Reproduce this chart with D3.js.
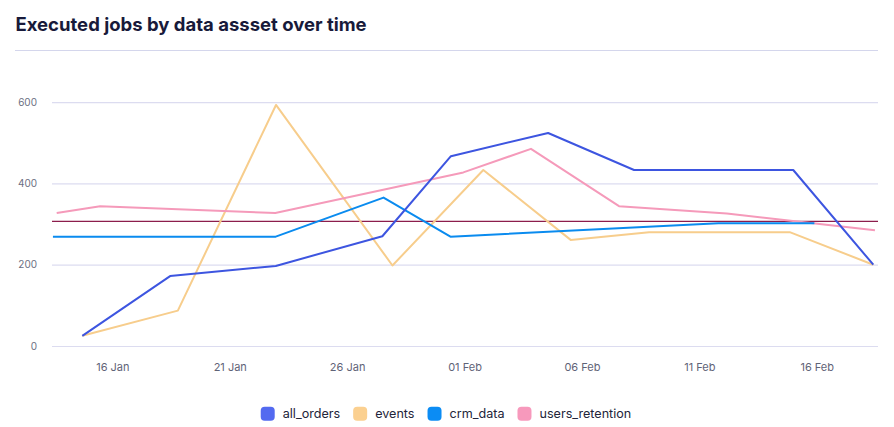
<!DOCTYPE html>
<html>
<head>
<meta charset="utf-8">
<script src="https://cdn.jsdelivr.net/npm/d3@7"></script>
<style>
  html, body { margin: 0; padding: 0; background: #ffffff; }
  svg { display: block; font-family: Inter, "Noto Sans", sans-serif; }
</style>
</head>
<body>
<svg id="chart" width="894" height="427"></svg>
<script>
// ---- data (x in days relative to 16 Jan) ----
const title = "Executed jobs by data assset over time";
const seriesNames = ["all_orders", "events", "crm_data", "users_retention"];
const seriesColors = ["#3d55e0", "#f7cd8c", "#0a8bef", "#f59aba"];
const swatchColors = ["#536af0", "#fbd090", "#0b8cf4", "#f799bc"];

const allOrdersX = [-1.28, 2.46, 6.96, 11.50, 14.42, 18.56, 22.22, 29.00, 32.41];
const allOrdersY = [25, 172, 197, 270, 467, 524, 433, 433, 200];

const eventsX = [-1.28, 2.79, 6.97, 11.93, 15.80, 19.52, 22.86, 28.85, 32.41];
const eventsY = [25, 87, 593, 198, 433, 261, 280, 280, 200];

const crmX = [-2.53, 6.96, 11.55, 14.40, 25.81, 29.90];
const crmY = [269, 269, 365, 269, 302, 302];

const retentionX = [-2.37, -0.52, 6.94, 14.95, 17.83, 21.58, 26.17, 32.48];
const retentionY = [327, 344, 327, 427, 485, 344, 326, 285];

const referenceValue = 306.6;

const xTickValues = [0, 5, 10, 15, 20, 25, 30];
const xTickLabels = ["16 Jan", "21 Jan", "26 Jan", "01 Feb", "06 Feb", "11 Feb", "16 Feb"];
const yTickValues = [0, 200, 400, 600];

// ---- layout ----
const svg = d3.select("#chart");
const plotLeft = 52, plotRight = 878, plotTop = 102.1, plotBottom = 346;

const x = d3.scaleLinear().domain([-2.57, 32.61]).range([plotLeft, plotRight]);
const y = d3.scaleLinear().domain([0, 600]).range([plotBottom, plotTop]);

// title
svg.append("text")
  .attr("x", 15.5).attr("y", 31)
  .attr("font-size", 18.5).attr("font-weight", 700)
  .attr("fill", "#181a3a")
  .text(title);

svg.append("line")
  .attr("x1", 15).attr("x2", plotRight)
  .attr("y1", 50.5).attr("y2", 50.5)
  .attr("stroke", "#d4d6ec").attr("stroke-width", 1);

// y grid + labels
const yAxis = d3.axisLeft(y).tickValues(yTickValues).tickSize(-(plotRight - plotLeft)).tickPadding(15);
const yg = svg.append("g").attr("transform", `translate(${plotLeft},0)`).call(yAxis);
yg.select(".domain").remove();
yg.selectAll(".tick line").attr("stroke", "#dcdcf0").attr("stroke-width", 1.2);
yg.selectAll(".tick text")
  .attr("font-size", 10).attr("fill", "#6c6f82")
  .attr("font-family", "Inter, sans-serif");

// x axis labels
const xAxis = d3.axisBottom(x).tickValues(xTickValues)
  .tickFormat((d, i) => xTickLabels[i]).tickSize(0).tickPadding(17);
const xg = svg.append("g").attr("transform", `translate(0,${plotBottom})`).call(xAxis);
xg.select(".domain").remove();
xg.selectAll(".tick text")
  .attr("font-size", 11).attr("fill", "#5f6377")
  .attr("font-family", "Inter, sans-serif");

// reference line
svg.append("line")
  .attr("x1", plotLeft).attr("x2", plotRight)
  .attr("y1", y(referenceValue)).attr("y2", y(referenceValue))
  .attr("stroke", "#8c1d4c").attr("stroke-width", 1.2);

// series
const seriesData = [
  allOrdersX.map((d, i) => [d, allOrdersY[i]]),
  eventsX.map((d, i) => [d, eventsY[i]]),
  crmX.map((d, i) => [d, crmY[i]]),
  retentionX.map((d, i) => [d, retentionY[i]])
];
const line = d3.line().x(d => x(d[0])).y(d => y(d[1]));
const drawOrder = [1, 3, 2, 0];
drawOrder.forEach(i => {
  svg.append("path")
    .datum(seriesData[i])
    .attr("d", line)
    .attr("fill", "none")
    .attr("stroke", seriesColors[i])
    .attr("stroke-width", 2)
    .attr("stroke-linejoin", "round");
});

// legend
const legend = svg.append("g");
let cx = 0;
seriesNames.forEach((name, i) => {
  const g = legend.append("g").attr("transform", `translate(${cx},0)`);
  g.append("rect").attr("x", 0).attr("y", 0).attr("width", 14).attr("height", 14)
    .attr("rx", 4).attr("fill", swatchColors[i]);
  const t = g.append("text").attr("x", 22).attr("y", 11.5)
    .attr("font-size", 12.6).attr("fill", "#23253a").text(name);
  const w = t.node().getComputedTextLength();
  cx += 22 + w + 13;
});
const totalW = cx - 13;
legend.attr("transform", `translate(${(894 - totalW) / 2 - 1},406.7)`);
</script>
</body>
</html>
